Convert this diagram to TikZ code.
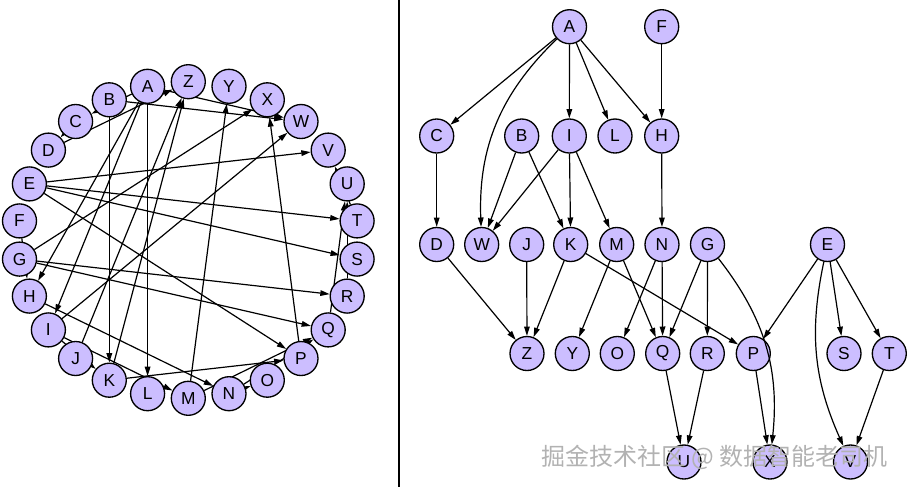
\documentclass[tikz,border=0pt]{standalone}
\usepackage{fontspec}
\setmainfont{Liberation Sans}
\newfontfamily\cjkfont{Noto Sans CJK SC}
\usetikzlibrary{arrows.meta,backgrounds}
\definecolor{nodefill}{RGB}{204,190,255}
\tikzset{
  vertex/.style={circle,draw,line width=1pt,fill=nodefill,minimum size=25.5pt,inner sep=0pt,font=\fontsize{13}{15}\selectfont},
  arc/.style={-{Triangle[length=7pt,width=4.2pt]},line width=0.9pt},
}
\begin{document}
\begin{tikzpicture}[x=0.75pt,y=-0.75pt]
\useasboundingbox (0,0) rectangle (908,487);
\draw[line width=1pt] (399,0) -- (399,487);

% circular layout
\node[vertex] (cA) at (147.6,86.3) {A};
\node[vertex] (cB) at (109.3,99.8) {B};
\node[vertex] (cC) at (75.6,121.5) {C};
\node[vertex] (cD) at (48.4,150.1) {D};
\node[vertex] (cE) at (29.4,183.9) {E};
\node[vertex] (cF) at (19.5,220.9) {F};
\node[vertex] (cG) at (19.5,259.1) {G};
\node[vertex] (cH) at (29.4,296.1) {H};
\node[vertex] (cI) at (48.4,329.9) {I};
\node[vertex] (cJ) at (75.6,358.5) {J};
\node[vertex] (cK) at (109.3,380.2) {K};
\node[vertex] (cL) at (147.6,393.7) {L};
\node[vertex] (cM) at (188.3,398.3) {M};
\node[vertex] (cN) at (229.0,393.7) {N};
\node[vertex] (cO) at (267.3,380.2) {O};
\node[vertex] (cP) at (301.0,358.5) {P};
\node[vertex] (cQ) at (328.2,329.9) {Q};
\node[vertex] (cR) at (347.2,296.1) {R};
\node[vertex] (cS) at (357.1,259.1) {S};
\node[vertex] (cT) at (357.1,220.9) {T};
\node[vertex] (cU) at (347.2,183.9) {U};
\node[vertex] (cV) at (328.2,150.1) {V};
\node[vertex] (cW) at (301.0,121.5) {W};
\node[vertex] (cX) at (267.3,99.8) {X};
\node[vertex] (cY) at (229.0,86.3) {Y};
\node[vertex] (cZ) at (188.3,81.7) {Z};

\begin{scope}[on background layer]
\draw[arc] (cA) -- (cC); \draw[arc] (cA) -- (cW); \draw[arc] (cA) -- (cI);
\draw[arc] (cA) -- (cL); \draw[arc] (cA) -- (cH);
\draw[arc] (cF) -- (cH); \draw[arc] (cC) -- (cD);
\draw[arc] (cB) -- (cW); \draw[arc] (cB) -- (cK);
\draw[arc] (cI) -- (cW); \draw[arc] (cI) -- (cK); \draw[arc] (cI) -- (cM);
\draw[arc] (cH) -- (cN);
\draw[arc] (cD) -- (cZ); \draw[arc] (cJ) -- (cZ);
\draw[arc] (cK) -- (cZ); \draw[arc] (cK) -- (cP);
\draw[arc] (cM) -- (cY); \draw[arc] (cM) -- (cQ);
\draw[arc] (cN) -- (cO); \draw[arc] (cN) -- (cQ);
\draw[arc] (cG) -- (cQ); \draw[arc] (cG) -- (cR); \draw[arc] (cG) -- (cX);
\draw[arc] (cE) -- (cP); \draw[arc] (cE) -- (cS);
\draw[arc] (cE) -- (cT); \draw[arc] (cE) -- (cV);
\draw[arc] (cQ) -- (cU); \draw[arc] (cR) -- (cU);
\draw[arc] (cP) -- (cX); \draw[arc] (cT) -- (cV);
\end{scope}

% layered layout
\node[vertex] (tA) at (569.5,26.7) {A};
\node[vertex] (tF) at (661.7,26.7) {F};
\node[vertex] (tC) at (436.7,136) {C};
\node[vertex] (tB) at (521.7,136) {B};
\node[vertex] (tI) at (569.3,136) {I};
\node[vertex] (tL) at (615,136) {L};
\node[vertex] (tH) at (661.7,136) {H};
\node[vertex] (tD) at (436.7,244.5) {D};
\node[vertex] (tW) at (481.7,244.5) {W};
\node[vertex] (tJ) at (526.7,244.5) {J};
\node[vertex] (tK) at (570.7,244.5) {K};
\node[vertex] (tM) at (616.7,244.5) {M};
\node[vertex] (tN) at (662,244.5) {N};
\node[vertex] (tG) at (707.5,244.5) {G};
\node[vertex] (tE) at (827.5,244.5) {E};
\node[vertex] (tZ) at (527,353.5) {Z};
\node[vertex] (tY) at (572.3,353.5) {Y};
\node[vertex] (tO) at (617.3,353.5) {O};
\node[vertex] (tQ) at (662.7,353.5) {Q};
\node[vertex] (tR) at (707.3,353.5) {R};
\node[vertex] (tP) at (753.3,353.5) {P};
\node[vertex] (tS) at (844,353.5) {S};
\node[vertex] (tT) at (889.3,353.5) {T};
\node[vertex] (tU) at (684,462) {U};
\node[vertex] (tX) at (770,462) {X};
\node[vertex] (tV) at (850.5,462) {V};

\draw[arc] (tA) -- (tC); \draw[arc] (tA) to[bend right=24] (tW); \draw[arc] (tA) -- (tI);
\draw[arc] (tA) -- (tL); \draw[arc] (tA) -- (tH);
\draw[arc] (tF) -- (tH); \draw[arc] (tC) -- (tD);
\draw[arc] (tB) -- (tW); \draw[arc] (tB) -- (tK);
\draw[arc] (tI) -- (tW); \draw[arc] (tI) -- (tK); \draw[arc] (tI) -- (tM);
\draw[arc] (tH) -- (tN);
\draw[arc] (tD) -- (tZ); \draw[arc] (tJ) -- (tZ);
\draw[arc] (tK) -- (tZ); \draw[arc] (tK) -- (tP);
\draw[arc] (tM) -- (tY); \draw[arc] (tM) -- (tQ);
\draw[arc] (tN) -- (tO); \draw[arc] (tN) -- (tQ);
\draw[arc] (tG) -- (tQ); \draw[arc] (tG) -- (tR); \draw[arc] (tG) to[bend left=22] (tX);
\draw[arc] (tE) -- (tP); \draw[arc] (tE) -- (tS);
\draw[arc] (tE) -- (tT); \draw[arc] (tE) to[bend right=18] (tV);
\draw[arc] (tQ) -- (tU); \draw[arc] (tR) -- (tU);
\draw[arc] (tP) -- (tX); \draw[arc] (tT) -- (tV);

\node[anchor=west,text=gray!60,font=\cjkfont\fontsize{18}{20}\selectfont] (mark) at (537,457) {掘金技术社区 @ 数据智能老司机};
\end{tikzpicture}
\end{document}
